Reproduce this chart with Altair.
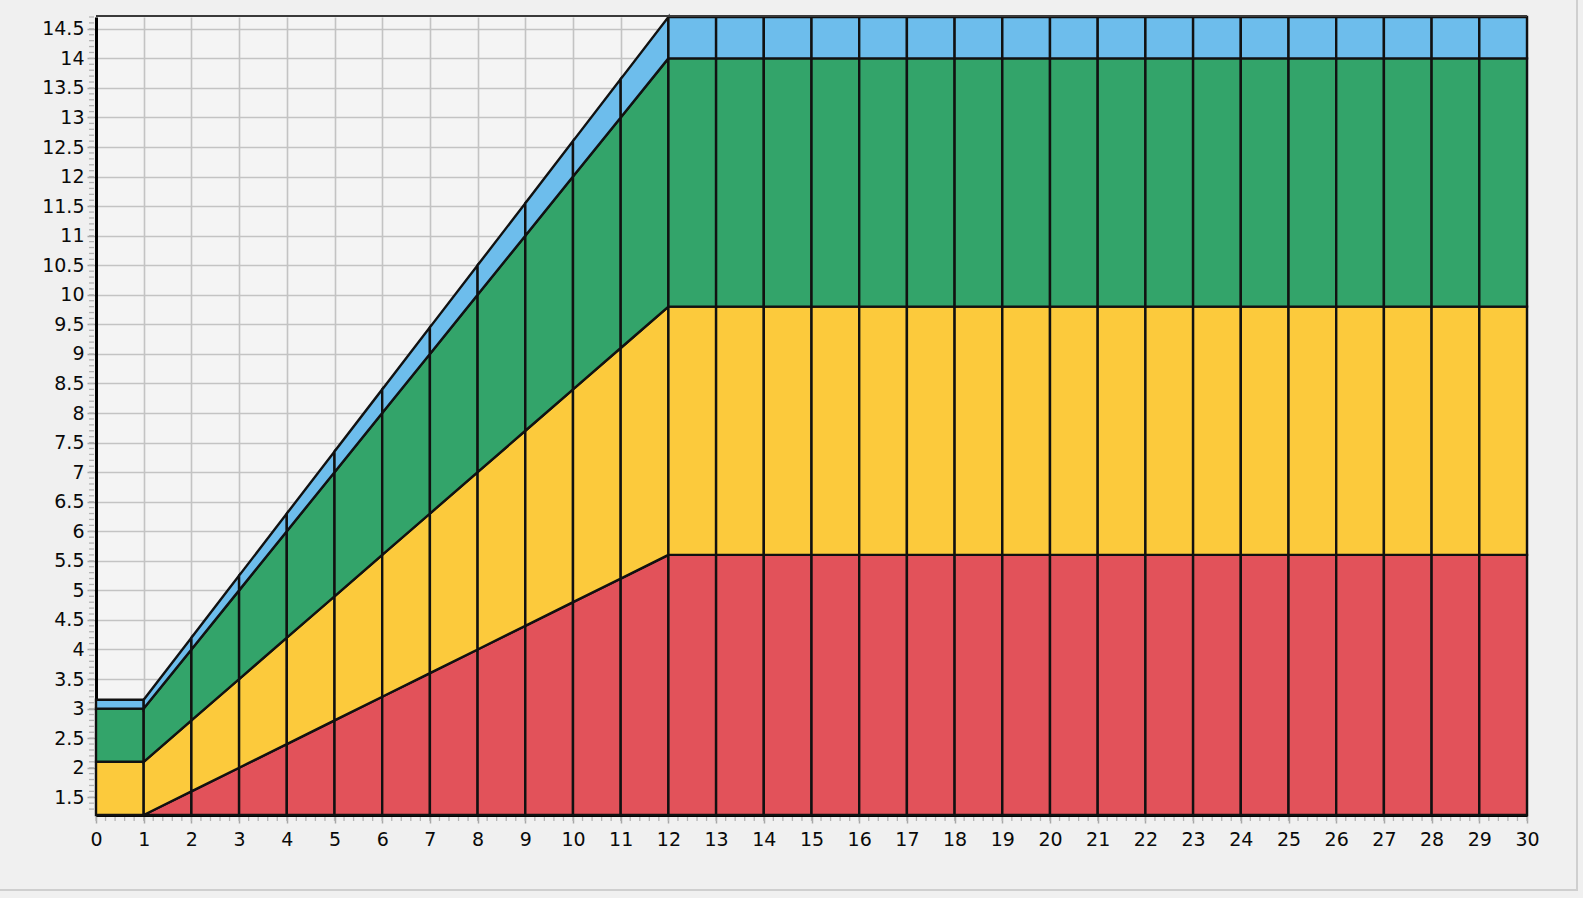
import altair as alt
import pandas as pd
import numpy as np

# ---- data ----
xs = list(range(31))
base = 1.2
red_top = [1.2, 1.2, 1.6, 2.0, 2.4, 2.8, 3.2, 3.6, 4.0, 4.4, 4.8, 5.2, 5.6,
           5.6, 5.6, 5.6, 5.6, 5.6, 5.6, 5.6, 5.6, 5.6, 5.6, 5.6, 5.6, 5.6,
           5.6, 5.6, 5.6, 5.6, 5.6]
yellow_top = [2.1, 2.1, 2.8, 3.5, 4.2, 4.9, 5.6, 6.3, 7.0, 7.7, 8.4, 9.1, 9.8,
              9.8, 9.8, 9.8, 9.8, 9.8, 9.8, 9.8, 9.8, 9.8, 9.8, 9.8, 9.8, 9.8,
              9.8, 9.8, 9.8, 9.8, 9.8]
green_top = [3.0, 3.0, 4.0, 5.0, 6.0, 7.0, 8.0, 9.0, 10.0, 11.0, 12.0, 13.0, 14.0,
             14.0, 14.0, 14.0, 14.0, 14.0, 14.0, 14.0, 14.0, 14.0, 14.0, 14.0, 14.0,
             14.0, 14.0, 14.0, 14.0, 14.0, 14.0]
blue_top = [3.15, 3.15, 4.2, 5.25, 6.3, 7.35, 8.4, 9.45, 10.5, 11.55, 12.6, 13.65, 14.7,
            14.7, 14.7, 14.7, 14.7, 14.7, 14.7, 14.7, 14.7, 14.7, 14.7, 14.7, 14.7,
            14.7, 14.7, 14.7, 14.7, 14.7, 14.7]

series_names = ["red", "yellow", "green", "blue"]
series_colors = ["#e2525a", "#fcca3c", "#33a46a", "#6dbdec"]
x_ticks = list(range(31))
y_ticks = [1.5, 2, 2.5, 3, 3.5, 4, 4.5, 5, 5.5, 6, 6.5, 7, 7.5, 8, 8.5, 9, 9.5,
           10, 10.5, 11, 11.5, 12, 12.5, 13, 13.5, 14, 14.5]
y_domain = [1.2, 14.7]
x_domain = [0, 30]

# ---- build long table: one polygon per series per unit segment ----
lows = [[base] * 31, red_top, yellow_top, green_top]
highs = [red_top, yellow_top, green_top, blue_top]
rows = []
for s, name in enumerate(series_names):
    for i in range(30):
        for xv in (i, i + 1):
            rows.append({"x": xv, "lo": lows[s][xv], "hi": highs[s][xv],
                         "series": name, "key": f"{name}-{i:02d}", "order": s})
df = pd.DataFrame(rows)

minor_x = pd.DataFrame({"x": [round(v, 2) for v in np.arange(0, 30.01, 0.2)]})
minor_y = pd.DataFrame({"lo": [round(v, 2) for v in np.arange(1.3, 14.75, 0.1)]})

W, H = 1431, 798
xscale = alt.Scale(domain=x_domain, nice=False, zero=False)
yscale = alt.Scale(domain=y_domain, nice=False, zero=False)

font = "DejaVu Sans"

x_axis = alt.Axis(values=x_ticks, format="d",
                  grid=True, gridColor="#c3c3c3",
                  gridWidth=1.6, domainColor="#000", domainWidth=3,
                  tickColor="#a8a8a8", tickSize=8, tickWidth=1.5,
                  labelFont=font, labelFontSize=19, labelColor="#0a0a0a",
                  labelPadding=7, labelFlush=False, labelOverlap=False)
y_axis = alt.Axis(values=y_ticks, format=".1~f",
                  grid=True, gridColor="#c3c3c3",
                  gridWidth=1.6, domainColor="#000", domainWidth=3,
                  tickColor="#a8a8a8", tickSize=9, tickWidth=1.5,
                  labelFont=font, labelFontSize=19, labelColor="#0a0a0a",
                  labelPadding=3, labelFlush=False, labelOverlap=False,
                  labelSeparation=0)

areas = alt.Chart(df).mark_area(stroke="#111111", strokeWidth=2.4, opacity=1,
                                interpolate="linear").encode(
    x=alt.X("x:Q", scale=xscale, axis=x_axis, title=None),
    y=alt.Y("lo:Q", scale=yscale, axis=y_axis, title=None),
    y2="hi:Q",
    color=alt.Color("series:N", scale=alt.Scale(domain=series_names, range=series_colors),
                    legend=None),
    detail="key:N",
    order="order:Q",
)

minor_x_ticks = alt.Chart(minor_x).mark_rule(color="#b5b5b5", strokeWidth=1.3).encode(
    x=alt.X("x:Q", scale=xscale, axis=x_axis, title=None),
    y=alt.value(H + 2), y2=alt.value(H + 6),
)
minor_y_ticks = alt.Chart(minor_y).mark_rule(color="#b5b5b5", strokeWidth=1.3).encode(
    y=alt.Y("lo:Q", scale=yscale, axis=y_axis, title=None),
    x=alt.value(-7), x2=alt.value(-2),
)

frame = pd.DataFrame({"k": [0]})
top_border = alt.Chart(frame).mark_rule(color="#3a3a3a", strokeWidth=2).encode(
    x=alt.value(0), x2=alt.value(W), y=alt.value(-1))
right_win = alt.Chart(frame).mark_rule(color="#cfcfcf", strokeWidth=2).encode(
    x=alt.value(1481), y=alt.value(-17), y2=alt.value(873))
bottom_win = alt.Chart(frame).mark_rule(color="#cfcfcf", strokeWidth=2).encode(
    x=alt.value(-96), x2=alt.value(1482), y=alt.value(873))

chart = alt.layer(areas, minor_x_ticks, minor_y_ticks, top_border,
                  right_win, bottom_win).properties(
    width=W, height=H,
    autosize=alt.AutoSizeParams(type="none"),
    padding={"left": 96, "top": 17, "right": 56, "bottom": 83},
    background="#f0f0f0",
).configure_view(fill="#f4f4f4", stroke=None).configure_axis(labelOverlap=False)

chart.save("out.html", embed_options={"renderer": "svg", "actions": False})
